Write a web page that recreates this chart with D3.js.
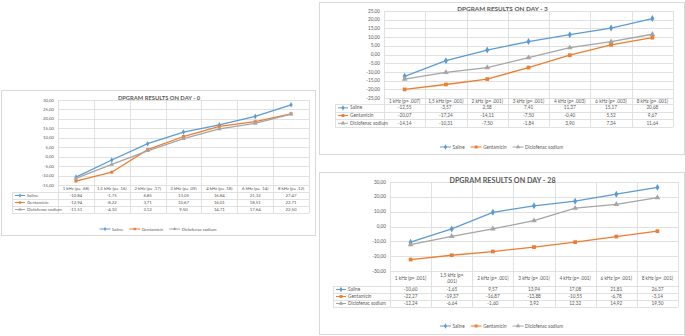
<!DOCTYPE html>
<html lang="en">
<head>
<meta charset="utf-8">
<title>dpgram</title>
<script src="https://cdn.jsdelivr.net/npm/d3@7/dist/d3.min.js"></script>
<style>
  body { margin: 0; background: #fff; }
  svg text { font-family: Lato, "Liberation Sans", sans-serif; fill: #595959; }
</style>
</head>
<body>
<svg width="685" height="336"></svg>
<script>
// series
const seriesNames = ["Saline", "Gentamicin", "Diclofenac sodium"];
const seriesColors = ["#5b9bd5", "#ed7d31", "#a5a5a5"];

// day 0
const catsDay0 = ["1 kHz (p= .68)", "1,5 kHz (p= .16)", "2 kHz (p= .17)", "3 kHz (p= .09)", "4 kHz (p= .18)", "6 kHz (p= .14)", "8 kHz (p= .12)"];
const salineDay0 = [-10.84, -1.75, 6.85, 13.05, 16.84, 21.32, 27.47];
const gentaDay0 = [-12.94, -8.22, 3.71, 10.67, 16.01, 18.51, 22.71];
const diclDay0 = [-11.51, -4.10, 3.12, 9.50, 14.71, 17.64, 22.50];
const ticksDay0 = [-15, -10, -5, 0, 5, 10, 15, 20, 25, 30];

// day 3
const catsDay3 = ["1 kHz (p= .007)", "1,5 kHz (p= .001)", "2 kHz (p= .001)", "3 kHz (p= .001)", "4 kHz (p= .003)", "6 kHz (p= .003)", "8 kHz (p= .001)"];
const salineDay3 = [-12.55, -3.57, 2.58, 7.41, 11.37, 15.17, 20.68];
const gentaDay3 = [-20.07, -17.24, -14.11, -7.50, -0.40, 5.52, 9.67];
const diclDay3 = [-14.14, -10.31, -7.50, -1.84, 3.90, 7.34, 11.64];
const ticksDay3 = [-25, -20, -15, -10, -5, 0, 5, 10, 15, 20, 25];

// day 28
const catsDay28 = ["1 kHz (p= .001)", "1,5 kHz (p= .001)", "2 kHz (p= .001)", "3 kHz (p= .001)", "4 kHz (p= .001)", "6 kHz (p= .001)", "8 kHz (p= .001)"];
const salineDay28 = [-10.60, -1.65, 9.57, 13.94, 17.08, 21.81, 26.37];
const gentaDay28 = [-22.27, -19.37, -16.87, -13.88, -10.55, -6.78, -3.14];
const diclDay28 = [-12.24, -6.64, -1.60, 3.92, 12.32, 14.92, 19.50];
const ticksDay28 = [-30, -20, -10, 0, 10, 20, 30];

const loc = d3.formatLocale({decimal: ",", thousands: ".", grouping: [3], currency: ["", ""], minus: "-"});
const fmt = loc.format(".2f");

const charts = [
  {title: "DPGRAM RESULTS ON DAY - 0", cats: catsDay0, values: [salineDay0, gentaDay0, diclDay0], ticks: ticksDay0,
   box: [1, 90, 315, 235], plot: [58, 100, 309, 185], headH: 7, rowH: 7, labelX: 12,
   titleY: 98, legendY: 229, fs: 4.3, titleFs: 5.8, mk: 9, wrap: []},
  {title: "DPGRAM RESULTS ON DAY - 3", cats: catsDay3, values: [salineDay3, gentaDay3, diclDay3], ticks: ticksDay3,
   box: [319, 2, 684, 154], plot: [384, 11, 673, 98], headH: 6, rowH: 7.7, labelX: 335,
   titleY: 9, legendY: 147, fs: 4.7, titleFs: 6.4, mk: 14, wrap: []},
  {title: "DPGRAM RESULTS ON DAY - 28", cats: catsDay28, values: [salineDay28, gentaDay28, diclDay28], ticks: ticksDay28,
   box: [319, 172, 684, 334], plot: [390, 182, 678, 271], headH: 15, rowH: 7, labelX: 333,
   titleY: 180, legendY: 326, fs: 4.7, titleFs: 7.2, mk: 14, wrap: [1]}
];

const svg = d3.select("svg");
const symbols = [d3.symbolDiamond, d3.symbolSquare, d3.symbolTriangle];
const grid = "#d9d9d9";

charts.forEach(function (c) {
  const g = svg.append("g");
  const [L, T, R, B] = c.plot;

  g.append("rect")
    .attr("x", c.box[0] + 0.5).attr("y", c.box[1] + 0.5)
    .attr("width", c.box[2] - c.box[0]).attr("height", c.box[3] - c.box[1])
    .attr("fill", "#fff").attr("stroke", grid);

  const x = d3.scaleBand().domain(c.cats).range([L, R]);
  const y = d3.scaleLinear().domain(d3.extent(c.ticks)).range([B, T]);
  const tableBottom = B + c.headH + 3 * c.rowH;

  // horizontal gridlines + y labels
  g.selectAll(".hg").data(c.ticks).enter().append("line")
    .attr("x1", L).attr("x2", R)
    .attr("y1", d => Math.round(y(d)) + 0.5).attr("y2", d => Math.round(y(d)) + 0.5)
    .attr("stroke", grid).attr("stroke-width", 0.8);
  g.selectAll(".yl").data(c.ticks).enter().append("text")
    .attr("x", L - 4).attr("y", d => y(d)).attr("dy", "0.35em")
    .attr("text-anchor", "end").style("font-size", c.fs + "px")
    .text(d => fmt(d));

  // vertical gridlines through the data table
  const edges = c.cats.map(d => x(d)).concat([R]);
  g.selectAll(".vg").data(edges).enter().append("line")
    .attr("x1", d => Math.round(d) + 0.5).attr("x2", d => Math.round(d) + 0.5)
    .attr("y1", T).attr("y2", tableBottom)
    .attr("stroke", grid).attr("stroke-width", 0.8);

  // table row lines
  const rowLines = [0, 1, 2, 3].map(i => B + c.headH + i * c.rowH);
  g.selectAll(".rl").data(rowLines).enter().append("line")
    .attr("x1", c.labelX).attr("x2", R)
    .attr("y1", d => Math.round(d) + 0.5).attr("y2", d => Math.round(d) + 0.5)
    .attr("stroke", grid).attr("stroke-width", 0.8);
  g.append("line")
    .attr("x1", c.labelX + 0.5).attr("x2", c.labelX + 0.5)
    .attr("y1", B + c.headH).attr("y2", tableBottom)
    .attr("stroke", grid).attr("stroke-width", 0.8);

  // header categories
  c.cats.forEach(function (cat, i) {
    const t = g.append("text")
      .attr("x", x(cat) + x.bandwidth() / 2)
      .attr("text-anchor", "middle").style("font-size", c.fs + "px");
    if (c.wrap.indexOf(i) >= 0) {
      const parts = [cat.slice(0, cat.lastIndexOf(" ")), cat.slice(cat.lastIndexOf(" ") + 1)];
      t.attr("y", B + c.headH / 2 - c.fs * 0.6);
      parts.forEach((p, k) => t.append("tspan").attr("x", x(cat) + x.bandwidth() / 2)
        .attr("dy", k ? "1.25em" : "0.35em").text(p));
    } else {
      t.attr("y", B + c.headH / 2).attr("dy", "0.35em").text(cat);
    }
  });

  // table values + row keys
  c.values.forEach(function (vals, s) {
    const cy = B + c.headH + (s + 0.5) * c.rowH;
    g.selectAll(null).data(vals).enter().append("text")
      .attr("x", (d, i) => x(c.cats[i]) + x.bandwidth() / 2)
      .attr("y", cy).attr("dy", "0.35em")
      .attr("text-anchor", "middle").style("font-size", c.fs + "px")
      .text(d => fmt(d));
    const kx = c.labelX + 3;
    g.append("line").attr("x1", kx).attr("x2", kx + 10).attr("y1", cy).attr("y2", cy)
      .attr("stroke", seriesColors[s]).attr("stroke-width", 1);
    g.append("path").attr("d", d3.symbol(symbols[s], c.mk * 0.6)())
      .attr("transform", "translate(" + (kx + 5) + "," + cy + ")")
      .attr("fill", seriesColors[s]);
    g.append("text").attr("x", kx + 12).attr("y", cy).attr("dy", "0.35em")
      .style("font-size", c.fs + "px").text(seriesNames[s]);
  });

  // lines
  const line = d3.line()
    .x((d, i) => x(c.cats[i]) + x.bandwidth() / 2)
    .y(d => y(d));
  c.values.forEach(function (vals, s) {
    g.append("path").datum(vals).attr("d", line)
      .attr("fill", "none").attr("stroke", seriesColors[s]).attr("stroke-width", 1.3);
    g.selectAll(null).data(vals).enter().append("path")
      .attr("d", d3.symbol(symbols[s], c.mk)())
      .attr("transform", (d, i) => "translate(" + (x(c.cats[i]) + x.bandwidth() / 2) + "," + y(d) + ")")
      .attr("fill", seriesColors[s]);
  });

  // title
  g.append("text")
    .attr("x", (c.box[0] + c.box[2]) / 2 + 1).attr("y", c.titleY).attr("dy", "0.35em")
    .attr("text-anchor", "middle").style("font-size", c.titleFs + "px").style("font-weight", "bold")
    .text(c.title);

  // legend
  const lg = g.append("g");
  let cx = 0;
  seriesNames.forEach(function (name, s) {
    const item = lg.append("g").attr("transform", "translate(" + cx + ",0)");
    item.append("line").attr("x1", 0).attr("x2", 11).attr("y1", 0).attr("y2", 0)
      .attr("stroke", seriesColors[s]).attr("stroke-width", 1);
    item.append("path").attr("d", d3.symbol(symbols[s], c.mk * 0.6)())
      .attr("transform", "translate(5.5,0)").attr("fill", seriesColors[s]);
    const t = item.append("text").attr("x", 12.5).attr("dy", "0.35em")
      .style("font-size", c.fs + "px").text(name);
    cx += 12.5 + t.node().getComputedTextLength() + 6;
  });
  const lw = cx - 6;
  lg.attr("transform", "translate(" + ((c.box[0] + c.box[2]) / 2 - lw / 2) + "," + c.legendY + ")");
});
</script>
</body>
</html>
